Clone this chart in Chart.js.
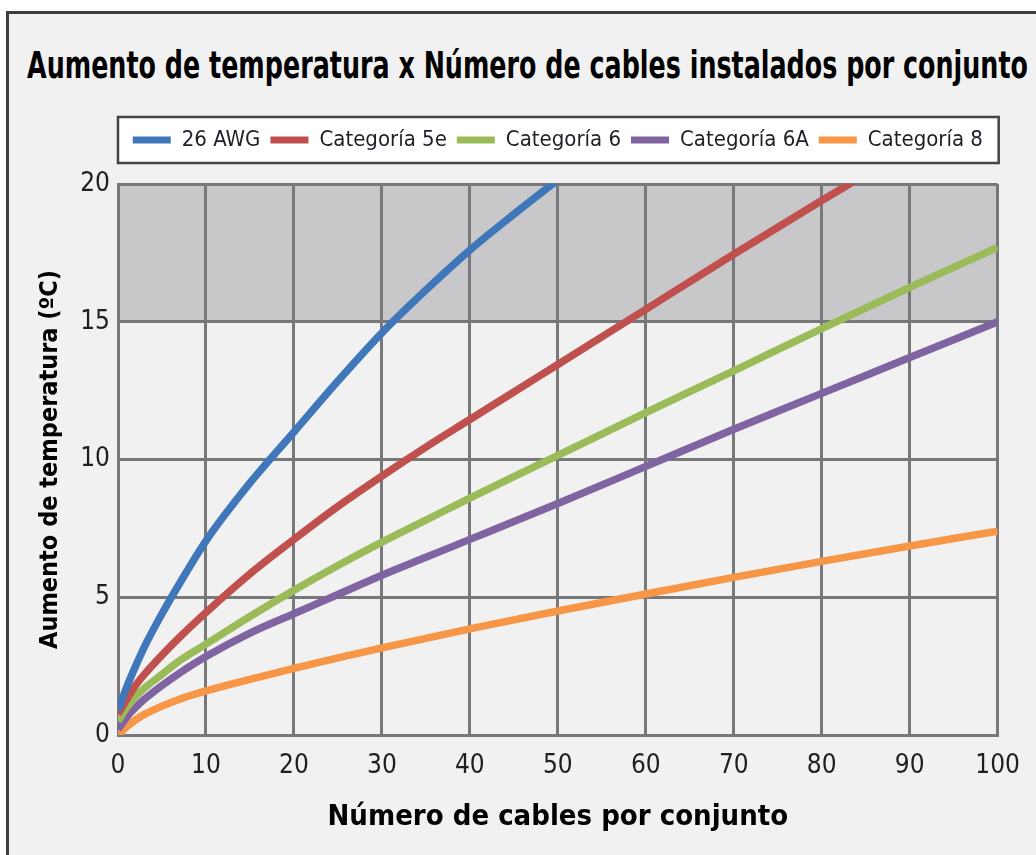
<!DOCTYPE html>
<html lang="es">
<head>
    <meta charset="UTF-8">
    <title>Aumento de temperatura x Número de cables</title>
    <script src="https://cdn.jsdelivr.net/npm/chart.js"></script>
    <style>
        html, body { margin: 0; padding: 0; background: #fff; }
        body { width: 1036px; height: 855px; position: relative; overflow: hidden; }
        #frame { position: absolute; left: 6px; top: 11px; width: 1100px; height: 900px;
                 border: 3px solid #3d3d3d; background: #f0f1f0; }
        #title { position: absolute; left: 27px; top: 44px; white-space: nowrap; line-height: 1;
                 font: bold 37px "Liberation Sans Narrow", "DejaVu Sans Condensed", "Arial Narrow", sans-serif;
                 transform-origin: left top; color: #000; }
        #chart { position: absolute; left: 0; top: 0; }
    </style>
</head>
<body>
    <div id="frame"></div>
    <div id="title">Aumento de temperatura x Número de cables instalados por conjunto</div>
    <canvas id="chart" width="1036" height="855"></canvas>

    <script>
        const FONT = '"Liberation Sans Narrow", "DejaVu Sans Condensed", "Arial Narrow", sans-serif';

        // número de cables por conjunto
        const cables = [0, 1, 2, 3, 5, 7, 10, 15, 20, 25, 30, 35, 40, 45, 50, 60, 70, 80, 90, 100];

        // aumento de temperatura (ºC)
        const awg26 = [0.9, 1.75, 2.5, 3.2, 4.4, 5.5, 7.05, 9.15, 11.0, 12.85, 14.6, 16.15, 17.6, 18.9, 20.15, null, null, null, null, null];
        const cat5e = [0.75, 1.3, 1.8, 2.2, 2.9, 3.55, 4.45, 5.85, 7.1, 8.3, 9.4, 10.45, 11.45, 12.45, 13.45, 15.45, 17.45, 19.4, 21.3, null];
        const cat6  = [0.5, 1.0, 1.4, 1.7, 2.2, 2.7, 3.3, 4.3, 5.25, 6.15, 7.0, 7.8, 8.6, 9.38, 10.15, 11.7, 13.22, 14.75, 16.25, 17.7];
        const cat6a = [0.2, 0.65, 1.0, 1.3, 1.8, 2.25, 2.85, 3.7, 4.4, 5.1, 5.8, 6.45, 7.1, 7.75, 8.4, 9.75, 11.1, 12.4, 13.7, 15.0];
        const cat8  = [0.0, 0.3, 0.55, 0.75, 1.05, 1.3, 1.6, 2.02, 2.42, 2.8, 3.16, 3.51, 3.85, 4.18, 4.5, 5.12, 5.72, 6.3, 6.86, 7.4];

        const seriesNames = ['26 AWG', 'Categoría 5e', 'Categoría 6', 'Categoría 6A', 'Categoría 8'];
        const seriesValues = [awg26, cat5e, cat6, cat6a, cat8];
        const seriesColors = ['#3f77ba', '#c0504d', '#9bbb59', '#8064a2', '#f79646'];

        // shaded zone on the y axis
        const bandFrom = 15;
        const bandTo = 20;

        // fit the title to the width it has in the picture
        const title = document.getElementById('title');
        title.style.transform = 'scaleX(' + (1001 / title.getBoundingClientRect().width) + ')';

        const backdrop = {
            id: 'backdrop',
            beforeLayout(chart) {
                // leave a gap between the legend box and the plot
                const lg = chart.legend;
                if (lg && !lg._gapPatched) {
                    const fit = lg.fit;
                    lg.fit = function () { fit.call(this); this.height += 23; };
                    lg._gapPatched = true;
                }
            },
            beforeDraw(chart) {
                const ctx = chart.ctx;
                const area = chart.chartArea;
                const y = chart.scales.y;
                ctx.save();
                ctx.fillStyle = '#c8c8ca';
                const top = y.getPixelForValue(bandTo);
                ctx.fillRect(area.left, top, area.right - area.left, y.getPixelForValue(bandFrom) - top);

                const hb = chart.legend.legendHitBoxes[0];
                if (hb) {
                    const mid = hb.top + hb.height / 2;
                    ctx.fillStyle = '#ffffff';
                    ctx.fillRect(area.left, mid - 23, area.right - area.left + 1, 46);
                    ctx.strokeStyle = '#444';
                    ctx.lineWidth = 2.5;
                    ctx.strokeRect(area.left, mid - 23, area.right - area.left + 1, 46);
                }
                ctx.restore();
            }
        };

        const gridColor = '#77787a';

        new Chart(document.getElementById('chart').getContext('2d'), {
            type: 'line',
            data: {
                datasets: seriesNames.map((name, i) => ({
                    label: name,
                    data: cables.map((c, j) => ({ x: c, y: seriesValues[i][j] })),
                    borderColor: seriesColors[i],
                    backgroundColor: seriesColors[i],
                    borderWidth: 7.5,
                    pointRadius: 0,
                    cubicInterpolationMode: 'monotone',
                    fill: false,
                    clip: 0
                }))
            },
            options: {
                responsive: false,
                animation: false,
                layout: { padding: { top: 119, right: 38, bottom: 0, left: 0 } },
                plugins: {
                    tooltip: { enabled: false },
                    legend: {
                        position: 'top',
                        fullSize: false,
                        labels: {
                            boxWidth: 38,
                            boxHeight: 7,
                            padding: 10,
                            color: '#1f1f28',
                            font: { family: FONT, size: 22 },
                            generateLabels(chart) {
                                return Chart.defaults.plugins.legend.labels.generateLabels(chart)
                                    .map(item => Object.assign(item, { lineWidth: 0, fillStyle: item.strokeStyle }));
                            }
                        }
                    }
                },
                scales: {
                    x: {
                        type: 'linear',
                        min: 0,
                        max: 100,
                        afterFit(scale) { scale.height = 120; },
                        ticks: { stepSize: 10, padding: 16, color: '#1f1f1f', font: { family: FONT, size: 26 } },
                        grid: { color: gridColor, lineWidth: 3, drawTicks: false },
                        border: { color: gridColor, width: 3 },
                        title: {
                            display: true,
                            text: 'Número de cables por conjunto',
                            color: '#000',
                            font: { family: FONT, size: 29, weight: 'bold' },
                            padding: { top: 0, bottom: 20 }
                        }
                    },
                    y: {
                        min: 0,
                        max: 20,
                        afterFit(scale) { scale.width = 118; },
                        ticks: { stepSize: 5, padding: 8, color: '#1f1f1f', font: { family: FONT, size: 26 } },
                        grid: { color: gridColor, lineWidth: 3, drawTicks: false },
                        border: { color: gridColor, width: 3 },
                        title: {
                            display: true,
                            text: 'Aumento de temperatura (ºC)',
                            color: '#000',
                            font: { family: FONT, size: 25, weight: 'bold' },
                            padding: { top: 35, bottom: 0 }
                        }
                    }
                }
            },
            plugins: [backdrop]
        });
    </script>
</body>
</html>
